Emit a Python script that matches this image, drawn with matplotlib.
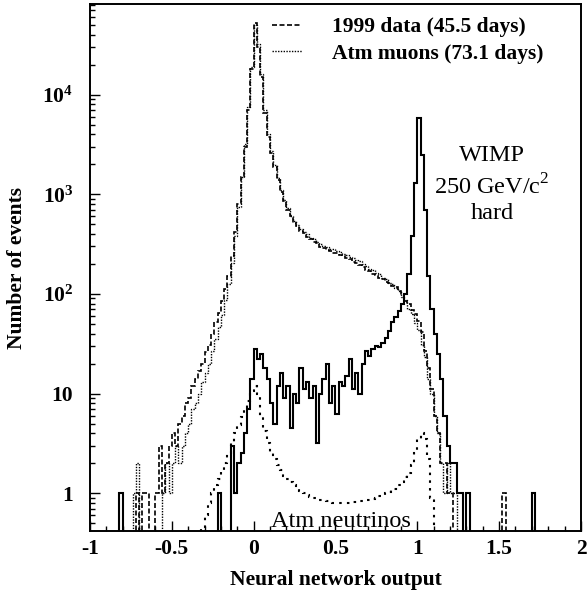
import numpy as np
import matplotlib
matplotlib.use("Agg")
import matplotlib.pyplot as plt
from matplotlib.ticker import FixedLocator, FixedFormatter, LogLocator, MultipleLocator, NullFormatter

plt.rcParams['font.family'] = ['Liberation Serif', 'DejaVu Serif']
plt.rcParams['mathtext.fontset'] = 'custom'
plt.rcParams['mathtext.rm'] = 'Liberation Serif'
plt.rcParams['mathtext.bf'] = 'Liberation Serif:bold'

# histogram binning (neural network output)
BIN_W = 0.02
x_min, x_max = -1.0, 2.0

# 1999 data, counts per bin starting at data_start
data_start = -0.62
data_counts = [0, 1, 3, 1, 2, 3, 4, 3, 5, 6, 8, 9, 12, 14, 17, 20, 26, 31, 40, 52,
               65, 85, 112, 150, 240, 420, 800, 1500, 3000, 7000, 18000, 52000,
               30000, 15000, 6500, 3800, 2600, 1900, 1400, 1050, 860, 700, 600,
               515, 475, 425, 405, 370, 355, 330, 322, 298, 290, 276, 272, 258,
               256, 243, 241, 228, 224, 211, 206, 193, 188, 174, 170, 158, 156,
               146, 142, 132, 130, 120, 117, 106, 97, 85, 79, 69, 63, 54, 41, 27,
               18, 11, 6, 4, 2, 2, 1, 1]
data_spike_x = [-0.72, -0.68, -0.66, 1.52]
data_spike_n = [1, 1, 1, 1]

# atmospheric muon simulation
muon_start = -0.74
muon_counts = [1, 2, 0, 0, 0, 0, 0, 0, 0, 1, 2, 1, 2, 3, 2, 3, 4, 5, 7, 8, 10, 13,
               16, 20, 27, 35, 46, 62, 86, 125, 205, 380, 750, 1500, 3200, 7500,
               19000, 50000, 32000, 16000, 7000, 4000, 2700, 1950, 1450, 1100, 880,
               735, 612, 545, 488, 452, 418, 398, 368, 355, 333, 320, 303, 297, 285,
               280, 268, 264, 253, 248, 236, 231, 218, 212, 198, 192, 178, 174, 161,
               158, 146, 141, 130, 126, 114, 108, 94, 86, 71, 63, 51, 43, 31, 23,
               14, 10, 6, 4, 2, 1, 2, 1, 1]

# WIMP 250 GeV/c2 hard spectrum
wimp_start = -0.14
wimp_counts = [3, 1, 2, 2.5, 4, 7, 14, 28, 22, 25, 18, 14, 8, 5, 12, 16, 9, 12, 4.5,
               10, 8, 18, 11, 13, 9, 12, 3.2, 10, 14, 20, 8, 12, 6.3, 13, 12, 15, 22,
               11, 16, 10, 20, 27, 24, 28, 30, 29, 32, 36, 42, 52, 58, 68, 80, 100,
               160, 380, 1300, 5800, 2500, 700, 150, 70, 40, 25, 14, 6, 3, 2, 2, 1,
               1, 0, 1]
wimp_spike_x = [-0.82, -0.22, 1.70]
wimp_spike_n = [1, 1, 1]

# atmospheric neutrino simulation
nu_start = -0.34
nu_counts = [0.35, 0.45, 0.6, 0.8, 1.0, 1.2, 1.4, 1.7, 2.0, 2.5, 3.2, 4.0, 4.8, 5.8,
             7.0, 8.5, 10.5, 12, 10, 6, 4.2, 3.2, 2.6, 2.2, 1.9, 1.7, 1.5, 1.4, 1.3,
             1.2, 1.1, 1.05, 1.0, 0.95, 0.92, 0.9, 0.88, 0.86, 0.85, 0.84, 0.82, 0.8,
             0.8, 0.79, 0.8, 0.8, 0.8, 0.81, 0.82, 0.83, 0.84, 0.85, 0.86, 0.88, 0.9,
             0.93, 0.96, 1.0, 1.03, 1.07, 1.1, 1.2, 1.3, 1.45, 1.6, 1.9, 2.5, 3.5,
             4.0, 3.5, 2.2, 0.9, 0.3]

edges = np.round(np.arange(x_min, x_max + BIN_W / 2, BIN_W), 3)
n_bins = len(edges) - 1


def fill_hist(start, counts, spike_x=(), spike_n=()):
    h = np.zeros(n_bins)
    i0 = int(round((start - x_min) / BIN_W))
    h[i0:i0 + len(counts)] = counts
    for sx, sn in zip(spike_x, spike_n):
        h[int(round((sx - x_min) / BIN_W))] += sn
    # empty bins drop below the log axis
    return np.where(h > 0, h, 1e-3)


h_data = fill_hist(data_start, data_counts, data_spike_x, data_spike_n)
h_muon = fill_hist(muon_start, muon_counts)
h_wimp = fill_hist(wimp_start, wimp_counts, wimp_spike_x, wimp_spike_n)
h_nu = fill_hist(nu_start, nu_counts)

fig = plt.figure(figsize=(5.88, 5.97), dpi=100)
ax = fig.add_axes([0.153, 0.1106, 0.835, 0.8824])

ax.stairs(h_data, edges, baseline=None, color='black', lw=1.2,
          linestyle=(0, (3, 1.5)), label='1999 data (45.5 days)')
ax.stairs(h_muon, edges, baseline=None, color='black', lw=1.0,
          linestyle=(0, (1, 1)), label='Atm muons (73.1 days)')
ax.stairs(h_wimp, edges, baseline=None, color='black', lw=1.5)
ax.stairs(h_nu, edges, baseline=None, color='black', lw=1.5,
          linestyle=(0, (1.2, 2.5)))

ax.set_yscale('log')
ax.set_xlim(x_min, x_max)
ax.set_ylim(0.417, 8.1e4)

ax.xaxis.set_major_locator(FixedLocator([-1, -0.5, 0, 0.5, 1, 1.5, 2]))
ax.xaxis.set_major_formatter(FixedFormatter(['-1', '-0.5', '0', '0.5', '1', '1.5', '2']))
ax.xaxis.set_minor_locator(MultipleLocator(0.1))

ax.yaxis.set_major_locator(FixedLocator([1, 10, 100, 1000, 10000]))
ax.yaxis.set_major_formatter(FixedFormatter(['1', '10', r'$\mathbf{10^{2}}$',
                                             r'$\mathbf{10^{3}}$', r'$\mathbf{10^{4}}$']))
ax.yaxis.set_minor_locator(LogLocator(base=10, subs=np.arange(2, 10)))
ax.yaxis.set_minor_formatter(NullFormatter())

ax.tick_params(which='both', direction='in', top=False, right=False, width=1.0)
ax.tick_params(which='major', length=7)
ax.tick_params(which='minor', length=3.5)
ax.tick_params(axis='x', pad=6, labelsize=15.5)
ax.tick_params(axis='y', pad=12, labelsize=15.5)
for lab in ax.get_xticklabels() + ax.get_yticklabels():
    lab.set_fontweight('bold')
for sp in ax.spines.values():
    sp.set_linewidth(1.4)

ax.set_xlabel('Neural network output', fontsize=15.5, fontweight='bold')
ax.set_ylabel('Number of events', fontsize=15.5, fontweight='bold')
ax.xaxis.set_label_coords(0.5, -0.074)
ax.yaxis.set_label_coords(-0.128, 0.5)

ax.legend(loc='upper left', bbox_to_anchor=(0.371, 0.975), frameon=False,
          prop={'size': 15.5, 'weight': 'bold'}, handlelength=1.4,
          handletextpad=1.4, labelspacing=0.3, borderpad=0, borderaxespad=0)

ax.text(0.819, 0.713, 'WIMP', transform=ax.transAxes, ha='center', va='center', fontsize=17.5)
ax.text(0.819, 0.653, r'250 GeV/c$^{2}$', transform=ax.transAxes, ha='center', va='center', fontsize=17.5)
ax.text(0.819, 0.603, 'hard', transform=ax.transAxes, ha='center', va='center', fontsize=17.5)
ax.text(0.511, 0.008, 'Atm neutrinos', transform=ax.transAxes, ha='center', va='baseline', fontsize=17.5)

fig.savefig('out.png', dpi=100)
